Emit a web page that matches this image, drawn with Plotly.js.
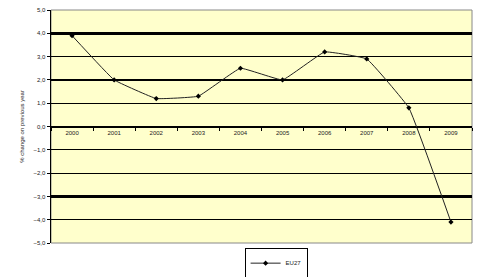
<!DOCTYPE html>
<html>
<head>
<meta charset="utf-8">
<script src="https://cdn.plot.ly/plotly-3.0.1.min.js"></script>
<style>html,body{margin:0;padding:0;background:#fff}#chart{width:502px;height:277px}</style>
</head>
<body>
<div id="chart"></div>
<script>
const years = ["2000","2001","2002","2003","2004","2005","2006","2007","2008","2009"];
const eu27 = [3.9, 2.0, 1.2, 1.3, 2.5, 2.0, 3.2, 2.9, 0.8, -4.1];
const seriesName = "EU27";
const yTickVals = [5,4,3,2,1,0,-1,-2,-3,-4,-5];
const thickGrid = [4,2,-3];

const fontFam = "Liberation Sans, Arial, sans-serif";
const data = [
  {x: years, y: eu27, name: seriesName, type: "scatter", mode: "lines+markers",
   line: {color: "#222", width: 1, shape: "spline", smoothing: 0.25},
   marker: {color: "#000", size: 4, symbol: "diamond"}},
  {x: years, y: eu27, xaxis: "x", yaxis: "y2", type: "scatter", mode: "none",
   showlegend: false, hoverinfo: "skip"}
];
const layout = {
  width: 502, height: 277,
  margin: {l: 51, r: 30, t: 10, b: 34, autoexpand: false},
  paper_bgcolor: "#fff", plot_bgcolor: "#FFFFCC",
  separators: ",.",
  font: {family: fontFam, size: 6, color: "#222"},
  showlegend: true,
  legend: {orientation: "h", x: 0.55, xanchor: "center", xref: "container",
           y: 0.05, yanchor: "middle", yref: "container",
           bordercolor: "#000", borderwidth: 1, font: {size: 6, color: "#222"},
           itemwidth: 30, tracegroupgap: 0},
  xaxis: {type: "category", range: [-0.5, 9.5], anchor: "free", position: 0.5,
          showline: true, linecolor: "#000", linewidth: 1.5,
          ticks: "outside", ticklen: 3, tickcolor: "#000", tickson: "boundaries",
          showgrid: false, tickfont: {size: 6, color: "#222"}, fixedrange: true},
  yaxis: {range: [-5, 5], tickvals: yTickVals, tickformat: ".1f",
          showline: true, linecolor: "#000", linewidth: 1.5,
          ticks: "outside", ticklen: 3, tickcolor: "#000",
          showgrid: true, gridcolor: "#000", gridwidth: 1, zeroline: false,
          tickfont: {size: 6, color: "#222"},
          title: {text: "% change on previous year", font: {size: 6, color: "#222"}, standoff: 8}},
  yaxis2: {range: [-5, 5], overlaying: "y", tickvals: thickGrid, showticklabels: false,
           showgrid: true, gridcolor: "#000", gridwidth: 2.5, zeroline: false, showline: false},
  shapes: [{type: "rect", xref: "paper", yref: "paper", x0: 0, x1: 1, y0: 0, y1: 1,
            line: {color: "#888", width: 1}, layer: "below"}]
};
Plotly.newPlot("chart", data, layout, {staticPlot: true});
</script>
</body>
</html>
